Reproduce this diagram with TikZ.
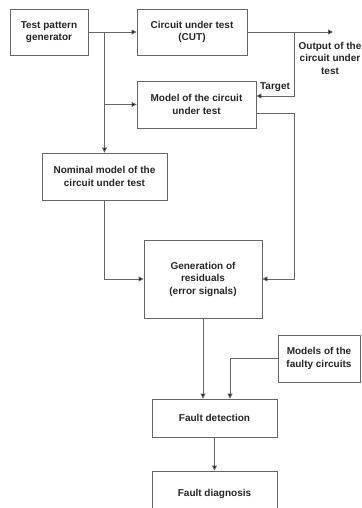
\documentclass[tikz,border=0pt]{standalone}
\usepackage{fontspec}
\setmainfont{Liberation Sans}
\usetikzlibrary{arrows.meta}
\begin{document}
\begin{tikzpicture}[x=1pt,y=-1pt,
  txt/.style={font=\fontsize{10}{12.5}\selectfont\bfseries, text=black!85, align=center, inner sep=0pt},
  box/.style={txt, draw=black!60, line width=0.9pt},
  conn/.style={draw=black!60, line width=0.9pt, -{Triangle[length=5pt,width=5pt,fill=black]}},
  plain/.style={draw=black!60, line width=0.9pt}]
\useasboundingbox (0,0) rectangle (361,508);
\fill[white] (0,0) rectangle (361,508);
\node[box, minimum width=78pt, minimum height=46pt] (tpg) at (49,32) {Test pattern\\generator};
\node[box, minimum width=110pt, minimum height=46pt] (cut) at (192,32) {Circuit under test\\(CUT)};
\node[box, minimum width=119pt, minimum height=47pt] (model) at (196.5,104.5) {Model of the circuit\\under test};
\node[box, minimum width=125pt, minimum height=47pt] (nominal) at (104.5,176.5) {Nominal model of the\\circuit under test};
\node[box, minimum width=118pt, minimum height=78pt] (gen) at (203,279) {Generation of\\residuals\\(error signals)};
\node[box, minimum width=82pt, minimum height=47pt] (faulty) at (319,358.5) {Models of the\\faulty circuits};
\node[box, minimum width=125pt, minimum height=38pt] (det) at (214.5,418) {Fault detection};
\node[box, minimum width=125pt, minimum height=46pt] (diag) at (214.5,494) {Fault diagnosis};
\coordinate (out) at (333,32);
\coordinate (tap) at (294,32);
\node[txt] (outlbl) at (330,58) {Output of the\\circuit under\\test};
\node[txt] (tgtlbl) at (275,87) {Target};
% connectors
\draw[conn] (tpg.east) -- (cut.west);
\draw[conn] (tpg.east -| nominal.north) -- (nominal.north);
\draw[conn] (tpg.east -| nominal.north) |- (model.west);
\draw[conn] (cut.east) -- (out);
\draw[conn] (tap) |- ([yshift=8.5pt]model.east);
\draw[conn] ([yshift=-8.5pt]model.east) -- ++(38,0) |- (gen.east);
\draw[conn] (nominal.south) |- (gen.west);
\draw[conn] (gen.south) -- (gen.south |- det.north);
\draw[conn] (faulty.west) -| ([xshift=15.5pt]det.north);
\draw[conn] (det.south) -- (diag.north);
\end{tikzpicture}
\end{document}
